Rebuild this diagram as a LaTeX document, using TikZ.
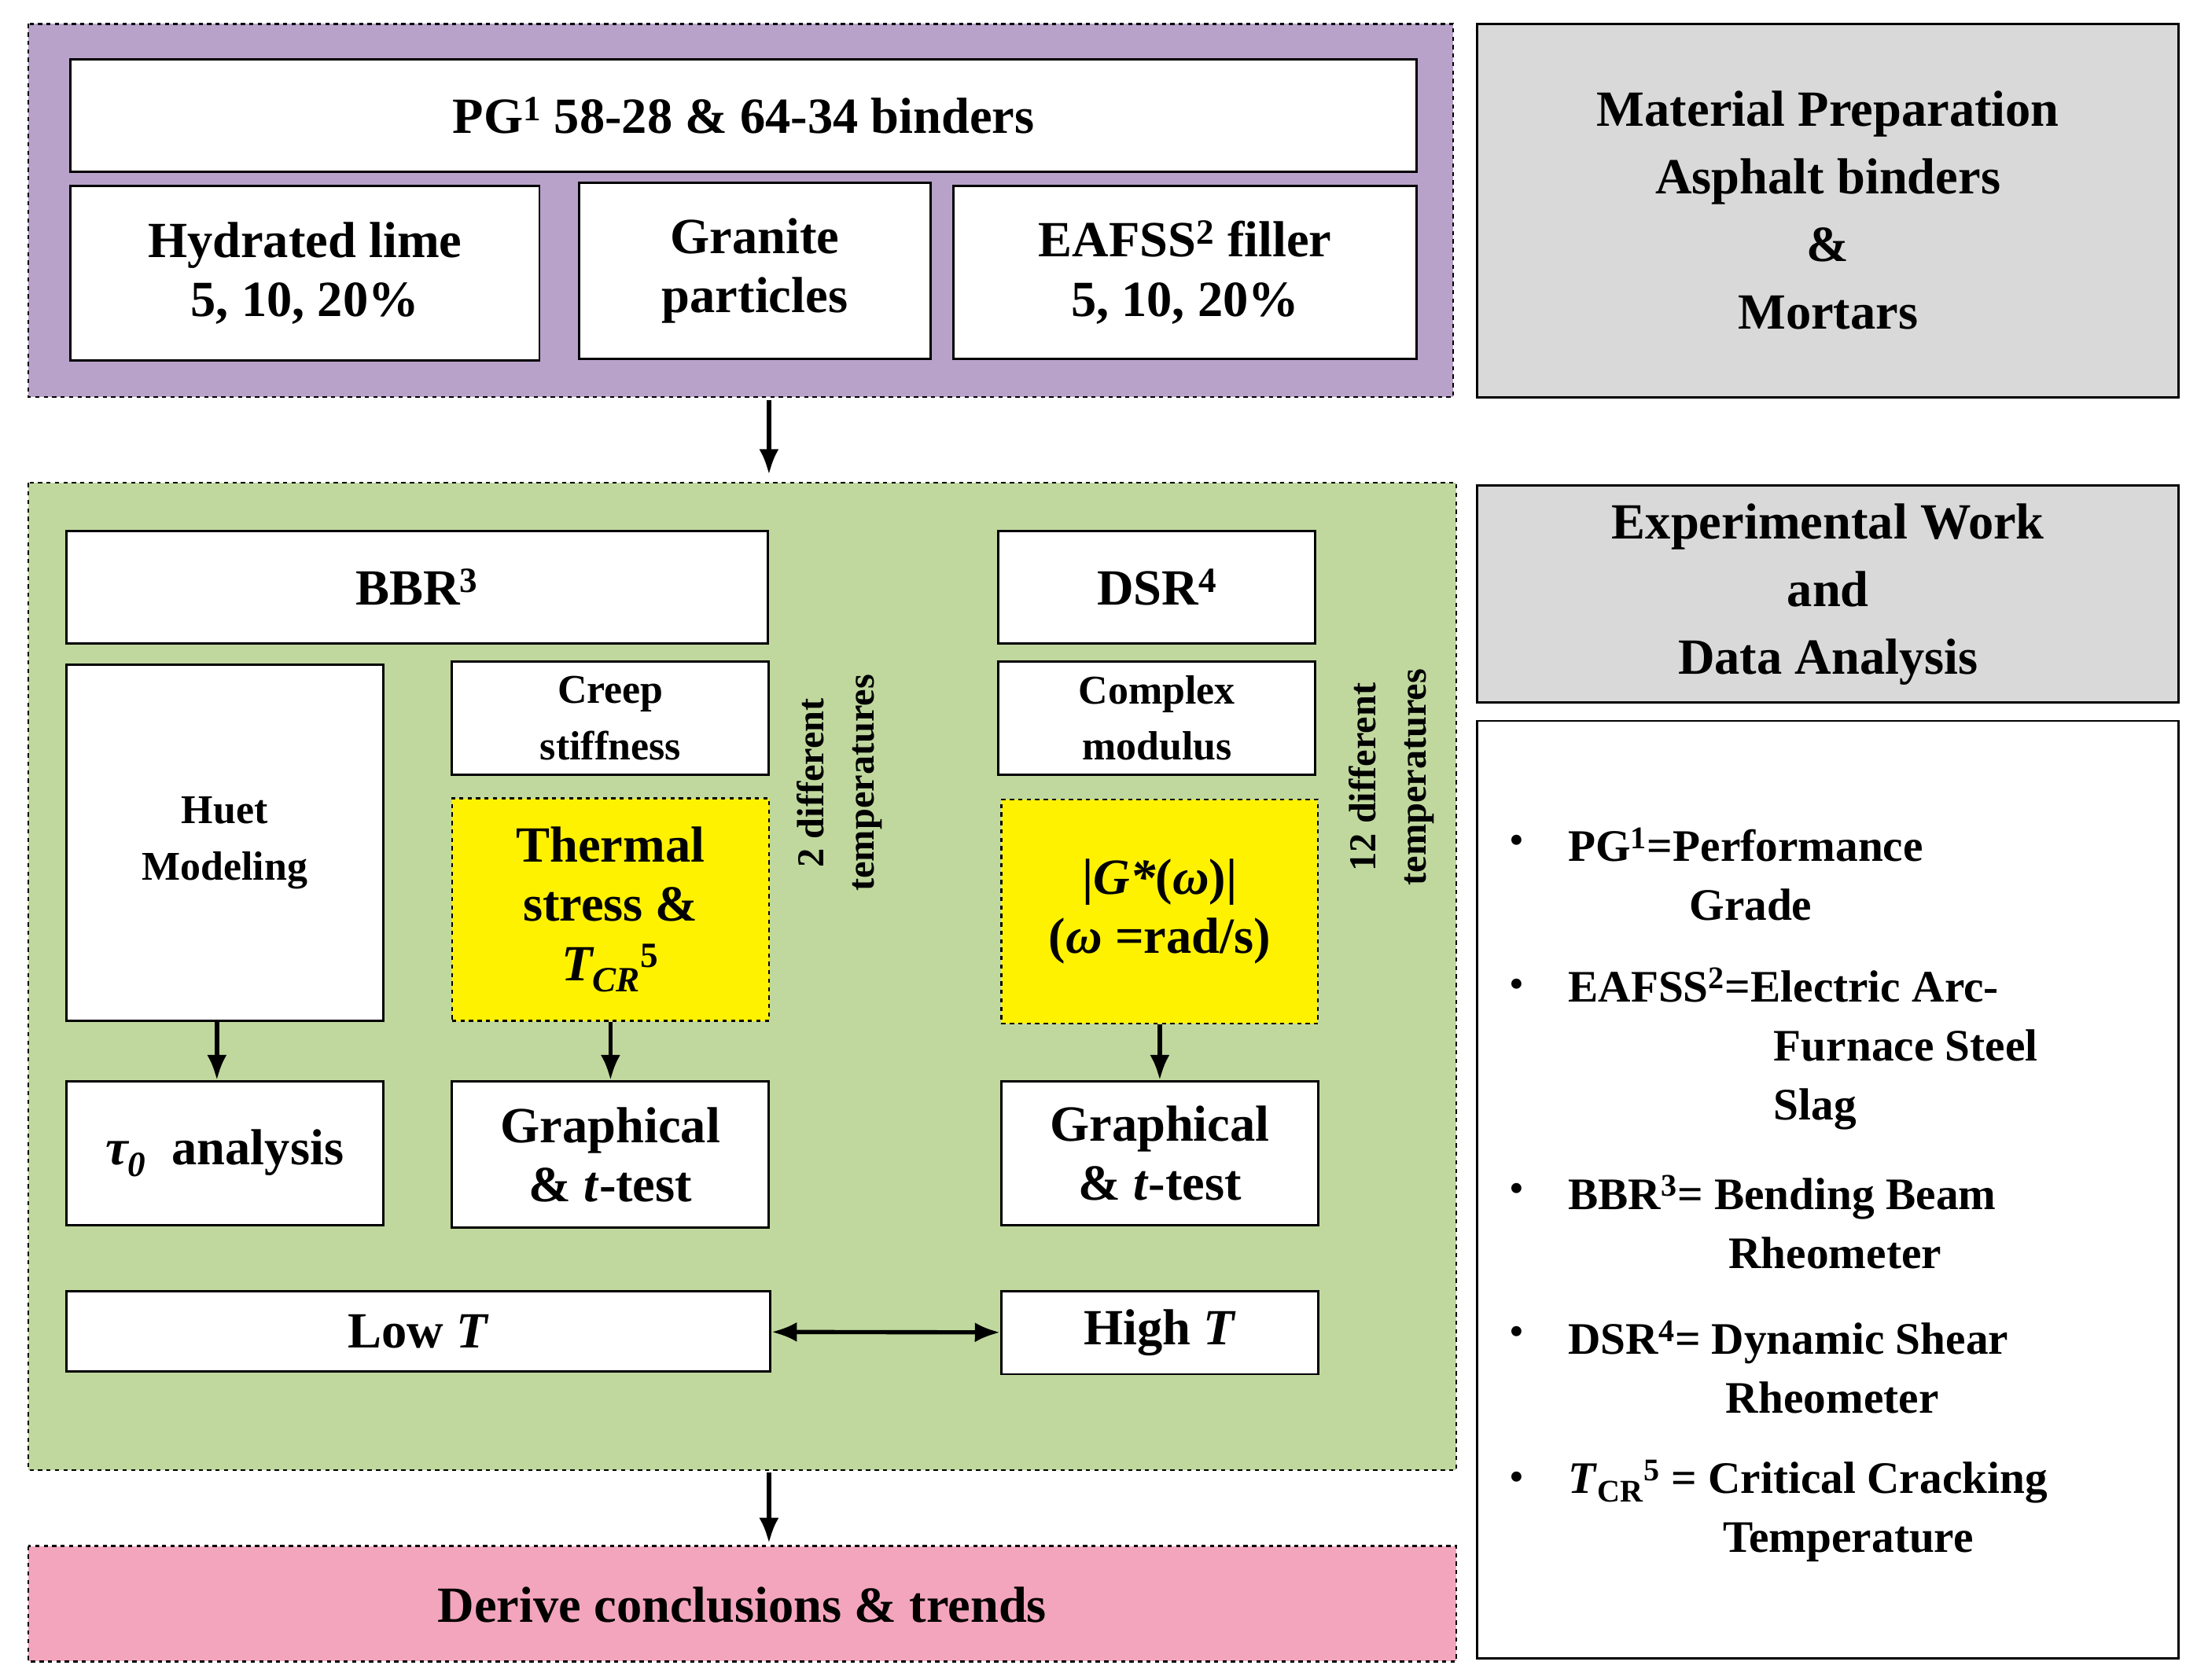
\documentclass[tikz,border=0pt]{standalone}
\usepackage{amsmath}
\usepackage{fontspec}
\setmainfont{Liberation Serif}
\usetikzlibrary{arrows.meta}
\definecolor{purp}{HTML}{B8A2CA}
\definecolor{grn}{HTML}{C0D89E}
\definecolor{gry}{HTML}{D9D9D9}
\definecolor{pnk}{HTML}{F3A5BE}
\begin{document}
\begin{tikzpicture}[x=1pt,y=-1pt,
 box/.style={draw,line width=1.6pt,fill=white,align=center,font=\bfseries\fontsize{36}{42}\selectfont},
 sbox/.style={box,font=\bfseries\fontsize{29}{40}\selectfont},
 ybox/.style={box,fill=yellow,dashed,line width=1.2pt},
 area/.style={draw,dashed,line width=1.2pt},
 gbox/.style={draw,line width=1.6pt,fill=gry,align=center,font=\bfseries\fontsize{36}{48}\selectfont},
 arr/.style={-{Latex[length=18pt,width=14pt]},line width=3pt},
 rot/.style={rotate=90,align=center,font=\bfseries\fontsize{27}{36}\selectfont},
 leg/.style={anchor=west,align=left,font=\bfseries\fontsize{32}{42}\selectfont}]
\useasboundingbox (0,0) rectangle (1560,1193);
\fill[white] (0,0) rectangle (1560,1193);
% areas
\draw[area,fill=purp] (20,17) rectangle (1032,282);
\draw[area,fill=grn] (20,343) rectangle (1034,1044);
\draw[area,fill=pnk] (20,1098) rectangle (1034,1180);
\node[font=\bfseries\fontsize{36}{40}\selectfont] (derive) at (527,1140) {Derive conclusions \& trends};
\coordinate (p1) at (546,284); \coordinate (g1) at (546,337);
\coordinate (g2) at (546,1046); \coordinate (k2) at (546,1096);
\draw[arr] (p1) -- (g1);
\draw[arr] (g2) -- (k2);
% top boxes
\node[box,minimum width=956,minimum height=80] (pg) at (528,82) {PG\textsuperscript{1} 58-28 \& 64-34 binders};
\node[box,minimum width=333,minimum height=124] (hl) at (216.5,194) {Hydrated lime\\5, 10, 20\%};
\node[box,minimum width=250,minimum height=125] (gp) at (536,192.5) {Granite\\particles};
\node[box,minimum width=329,minimum height=123] (ea) at (841.5,193.5) {EAFSS\textsuperscript{2} filler\\5, 10, 20\%};
% green content
\node[box,minimum width=498,minimum height=80] (bbr) at (296,417) {BBR\textsuperscript{3}};
\node[box,minimum width=225,minimum height=80] (dsr) at (821.5,417) {DSR\textsuperscript{4}};
\node[sbox,minimum width=225,minimum height=253] (huet) at (159.5,598.5) {Huet\\Modeling};
\node[sbox,minimum width=225,minimum height=80] (creep) at (433.5,510) {Creep\\stiffness};
\node[ybox,minimum width=225,minimum height=158] (th) at (433.5,646) {Thermal\\stress \&\\\textit{T\textsubscript{CR}}\textsuperscript{5}};
\node[sbox,minimum width=225,minimum height=80] (cm) at (821.5,510) {Complex\\modulus};
\node[ybox,minimum width=225,minimum height=159] (gs) at (823.5,647.5) {|\textit{G*}(\textit{ω})|\\(\textit{ω} =rad/s)};
\node[box,minimum width=225,minimum height=102] (tau) at (159.5,819) {\textit{τ\textsubscript{0}} ~analysis};
\node[box,minimum width=225,minimum height=104] (gr1) at (433.5,820) {Graphical\\\& \textit{t}-test};
\node[box,minimum width=225,minimum height=102] (gr2) at (823.5,819) {Graphical\\\& \textit{t}-test};
\node[box,minimum width=500,minimum height=57] (low) at (297,945.5) {Low \textit{T}};
\node[box,minimum width=225,minimum height=59] (high) at (823.5,946.5) {High \textit{T}};
\draw[arr] (huet.south-|154,0) -- (tau.north-|154,0);
\draw[arr] (th.south) -- (gr1.north);
\draw[arr] (gs.south) -- (gr2.north);
\draw[{Latex[length=18pt,width=14pt]}-{Latex[length=18pt,width=14pt]},line width=3pt] (low) -- (high);
\node[rot] (t2) at (596,556) {2 different\\temperatures};
\node[rot] (t12) at (988,552) {12 different\\temperatures};
% right side
\node[gbox,minimum width=498,minimum height=265] (mp) at (1298,149.5) {Material Preparation\\Asphalt binders\\\&\\Mortars};
\node[gbox,minimum width=498,minimum height=154] (ew) at (1298,422) {Experimental Work\\and\\Data Analysis};
\draw[line width=1.6pt] (1049,512) rectangle (1547,1178);
\foreach \y in {600,702,847,949,1052} \node[font=\fontsize{30}{30}\selectfont] at (1077,\y) {•};
\node[leg] (l1) at (1110,621) {PG\textsuperscript{1}=Performance\\\hspace{86pt}Grade};
\node[leg] (l2) at (1110,745) {EAFSS\textsuperscript{2}=Electric Arc-\\\hspace{146pt}Furnace Steel\\\hspace{146pt}Slag};
\node[leg] (l3) at (1110,868) {BBR\textsuperscript{3}= Bending Beam\\\hspace{114pt}Rheometer};
\node[leg] (l4) at (1110,971) {DSR\textsuperscript{4}= Dynamic Shear\\\hspace{112pt}Rheometer};
\node[leg] (l5) at (1110,1073) {\textit{T}\textsubscript{CR}\textsuperscript{5} = Critical Cracking\\\hspace{110pt}Temperature};
\end{tikzpicture}
\end{document}
